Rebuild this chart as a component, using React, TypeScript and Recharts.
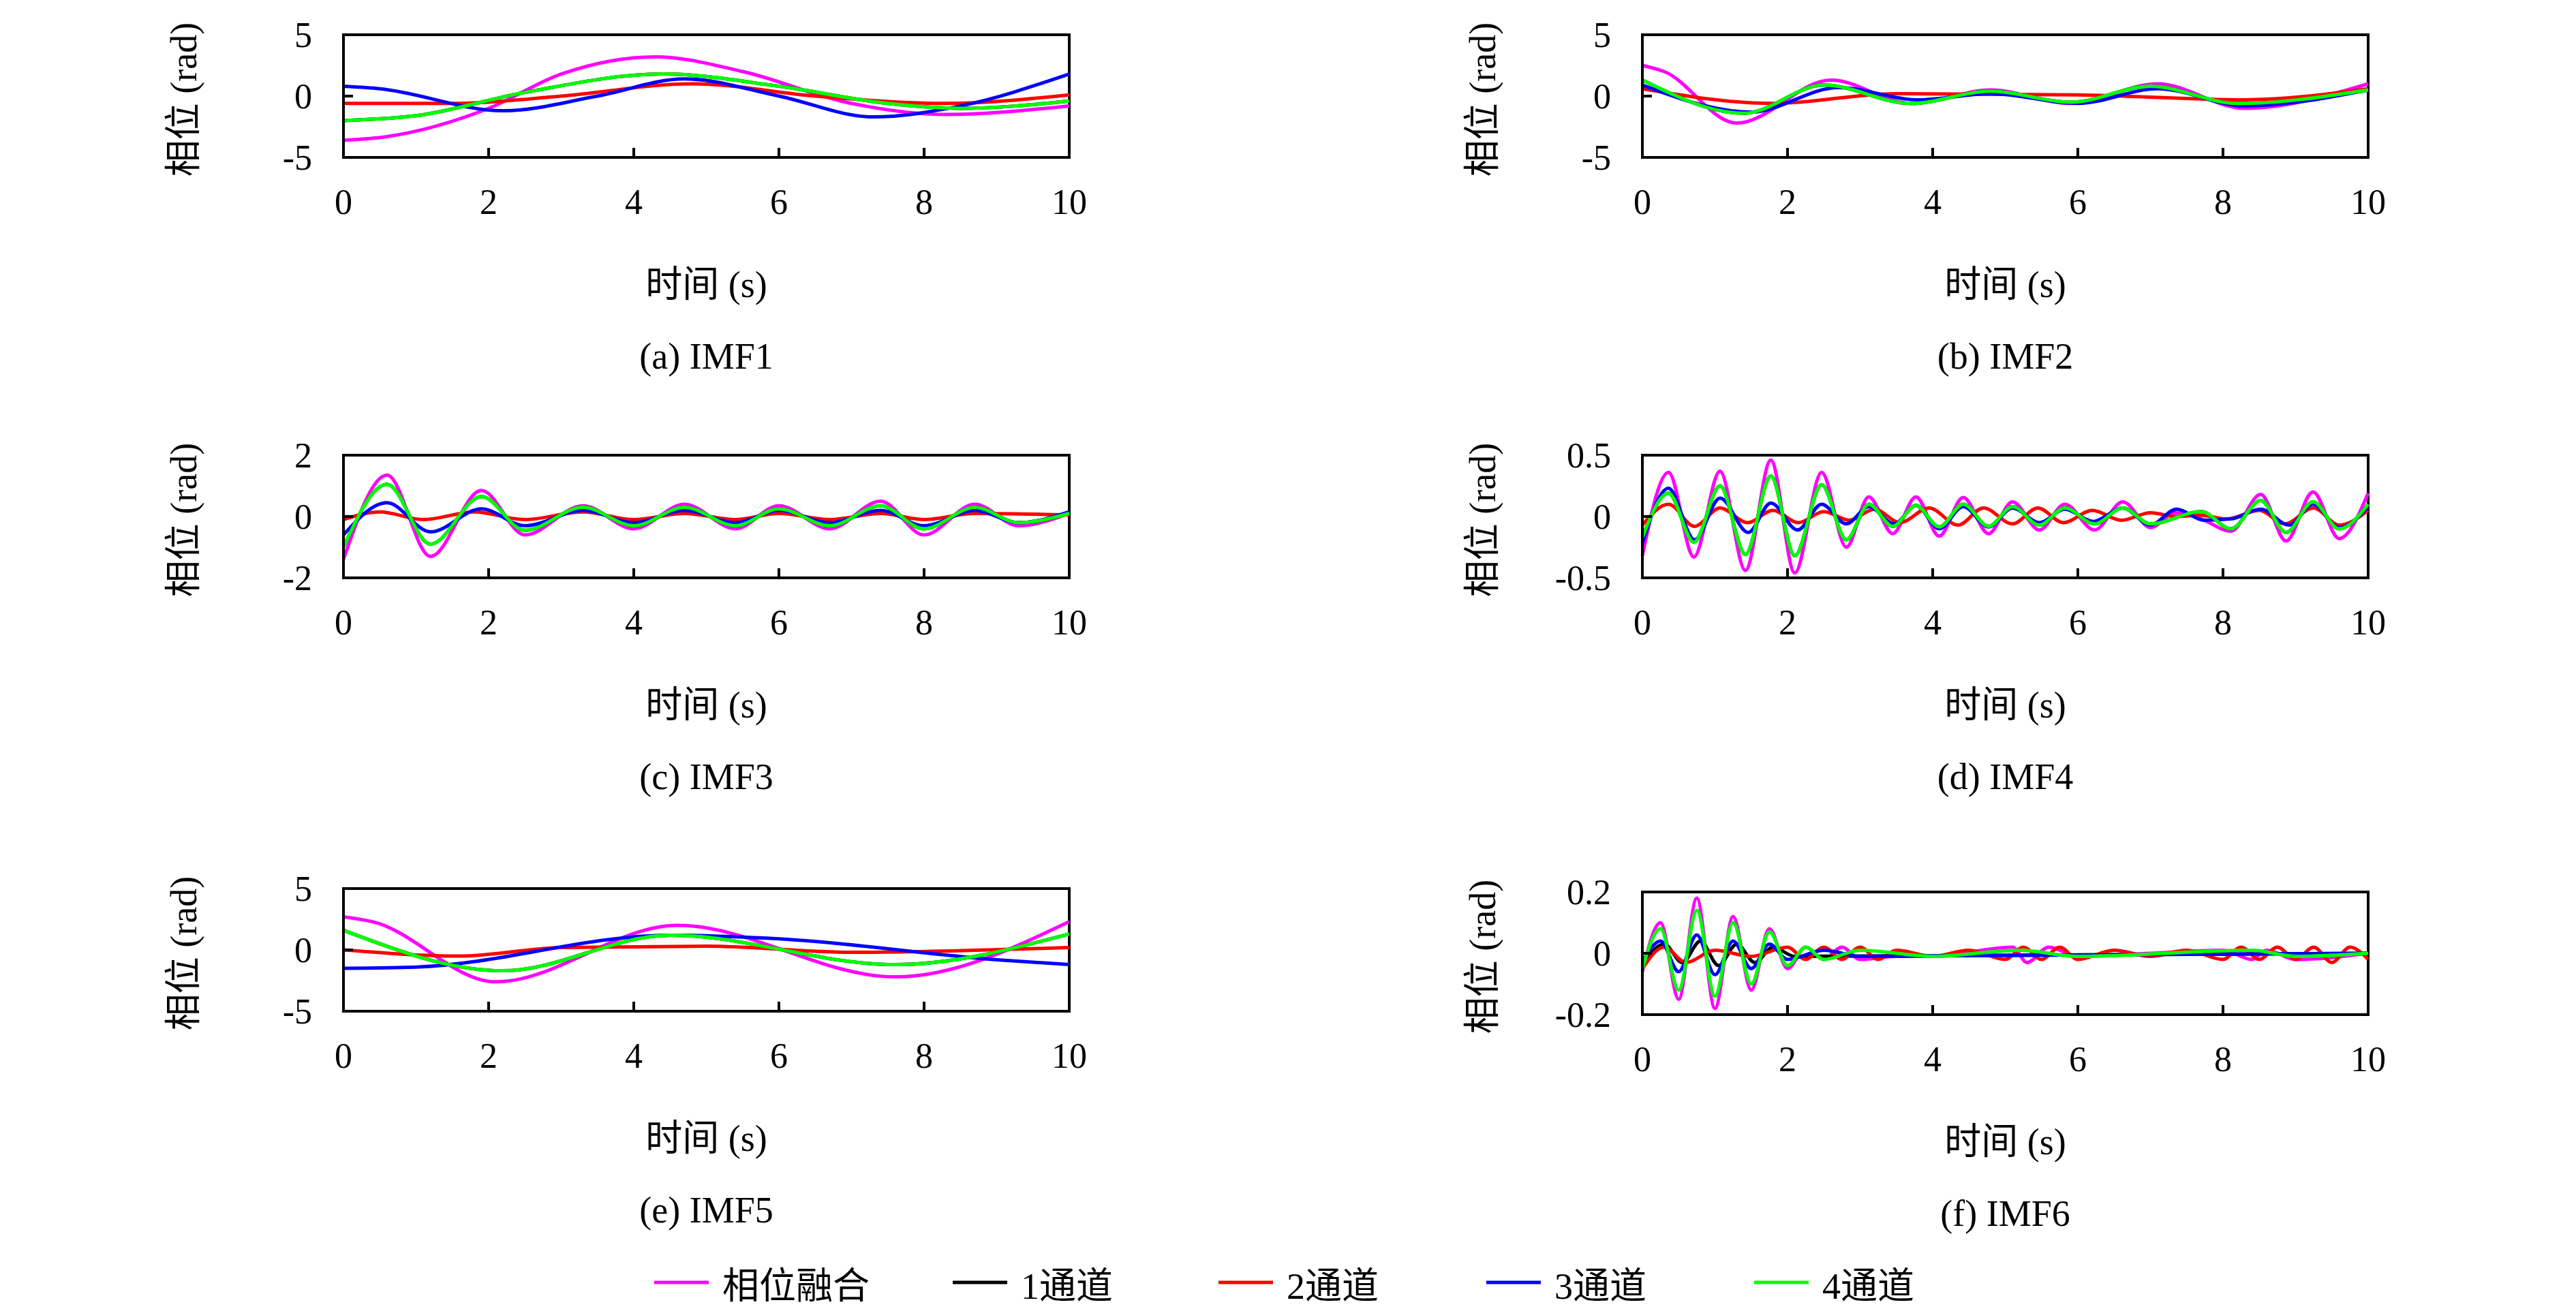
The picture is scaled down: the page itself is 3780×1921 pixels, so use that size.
import { LineChart, Line, XAxis, YAxis, ReferenceArea } from 'recharts';

type Pt = [number, number];

// IMF1
const aFus: Pt[] = [[0,-3.6],[0.6,-3.3],[2,-1],[3,1.8],[4.3,3.2],[5.5,2],[7,-0.6],[8.3,-1.5],[10,-0.8]];
const aCh2: Pt[] = [[0,-0.6],[1.5,-0.6],[3,0],[4.8,1],[6.5,0],[8.3,-0.6],[10,0.1]];
const aCh3: Pt[] = [[0,0.8],[0.5,0.6],[2.2,-1.2],[3.5,0],[4.7,1.4],[6,0],[7.3,-1.7],[8.5,-0.8],[10,1.8]];
const aCh4: Pt[] = [[0,-2],[1,-1.6],[2.5,0.3],[4.4,1.8],[6,0.8],[7.5,-0.6],[8.5,-1],[10,-0.4]];
// IMF2
const bFus: Pt[] = [[0,2.5],[0.3,2],[1.3,-2.2],[2.6,1.3],[3.7,-0.6],[4.8,0.5],[5.9,-0.6],[7.1,1],[8.3,-1],[10,1]];
const bCh2: Pt[] = [[0,0.6],[1.8,-0.6],[3.5,0.2],[6,0.1],[8.3,-0.3],[10,0.6]];
const bCh3: Pt[] = [[0,0.9],[1.5,-1.3],[2.7,0.7],[3.8,-0.3],[4.8,0.2],[6,-0.6],[7.1,0.6],[8.3,-0.8],[10,0.5]];
const bCh4: Pt[] = [[0,1.3],[1.4,-1.4],[2.5,0.9],[3.7,-0.6],[4.8,0.4],[5.9,-0.5],[7,0.8],[8.2,-0.6],[10,0.5]];
// IMF3
const cFus: Pt[] = [[0,-1.4],[0.6,1.35],[1.2,-1.3],[1.9,0.85],[2.5,-0.6],[3.3,0.35],[4,-0.4],[4.7,0.4],[5.4,-0.4],[6,0.35],[6.7,-0.4],[7.4,0.5],[8,-0.6],[8.7,0.4],[9.3,-0.3],[10,0.1]];
const cCh2: Pt[] = [[0,-0.1],[0.5,0.15],[1.1,-0.1],[1.8,0.15],[2.5,-0.1],[3.3,0.15],[4,-0.1],[4.7,0.1],[5.4,-0.1],[6,0.1],[6.7,-0.1],[7.4,0.1],[8,-0.1],[8.7,0.1],[10,0.05]];
const cCh3: Pt[] = [[0,-0.6],[0.6,0.45],[1.2,-0.5],[1.9,0.25],[2.5,-0.3],[3.3,0.2],[4,-0.2],[4.7,0.2],[5.4,-0.2],[6,0.2],[6.7,-0.2],[7.4,0.2],[8,-0.3],[8.7,0.2],[9.3,-0.2],[10,0.15]];
const cCh4: Pt[] = [[0,-1],[0.6,1.05],[1.2,-0.9],[1.9,0.65],[2.5,-0.45],[3.3,0.3],[4,-0.3],[4.7,0.3],[5.4,-0.3],[6,0.25],[6.7,-0.3],[7.4,0.35],[8,-0.4],[8.7,0.3],[9.3,-0.2],[10,0.1]];
// IMF4
const dFus: Pt[] = [[0,-0.32],[0.36,0.36],[0.71,-0.33],[1.07,0.37],[1.42,-0.44],[1.77,0.46],[2.1,-0.46],[2.47,0.36],[2.81,-0.25],[3.12,0.16],[3.45,-0.14],[3.77,0.16],[4.09,-0.16],[4.42,0.155],[4.77,-0.14],[5.1,0.12],[5.47,-0.11],[5.82,0.1],[6.23,-0.11],[6.62,0.12],[7,-0.09],[7.34,0.03],[7.7,-0.02],[8.11,-0.12],[8.52,0.18],[8.87,-0.2],[9.24,0.2],[9.6,-0.18],[10,0.19]];
const dCh2: Pt[] = [[0,-0.07],[0.36,0.1],[0.72,-0.08],[1.07,0.07],[1.45,-0.05],[1.8,0.05],[2.15,-0.05],[2.5,0.04],[2.85,-0.03],[3.2,0.06],[3.55,-0.05],[3.95,0.07],[4.35,-0.07],[4.7,0.07],[5.1,-0.06],[5.45,0.07],[5.8,-0.05],[6.2,0.05],[6.6,-0.03],[7,0.03],[7.35,0],[7.7,0.01],[8.05,-0.02],[8.5,0.05],[8.85,-0.06],[9.25,0.07],[9.6,-0.07],[10,0.05]];
const dCh3: Pt[] = [[0,-0.22],[0.36,0.23],[0.72,-0.19],[1.07,0.15],[1.46,-0.13],[1.77,0.11],[2.14,-0.11],[2.47,0.1],[2.81,-0.06],[3.12,0.08],[3.47,-0.06],[3.77,0.09],[4.09,-0.1],[4.42,0.08],[4.77,-0.085],[5.1,0.07],[5.47,-0.05],[5.82,0.06],[6.21,-0.04],[6.62,0.07],[7,-0.07],[7.36,0.06],[7.74,-0.03],[8.11,-0.02],[8.52,0.06],[8.91,-0.07],[9.24,0.1],[9.6,-0.09],[10,0.08]];
const dCh4: Pt[] = [[0,-0.17],[0.36,0.19],[0.71,-0.21],[1.07,0.25],[1.42,-0.31],[1.77,0.33],[2.1,-0.32],[2.47,0.26],[2.81,-0.19],[3.12,0.1],[3.45,-0.08],[3.77,0.09],[4.09,-0.085],[4.42,0.1],[4.77,-0.08],[5.1,0.08],[5.47,-0.07],[5.82,0.07],[6.23,-0.06],[6.62,0.07],[7,-0.06],[7.7,0.04],[8.11,-0.1],[8.52,0.13],[8.87,-0.13],[9.24,0.12],[9.6,-0.1],[10,0.1]];
// IMF5
const eFus: Pt[] = [[0,2.7],[0.4,2.3],[2.1,-2.6],[4.6,2],[7.6,-2.2],[10,2.3]];
const eCh2: Pt[] = [[0,0],[1.6,-0.5],[3,0.2],[5,0.3],[7,-0.2],[10,0.2]];
const eCh3: Pt[] = [[0,-1.5],[1,-1.4],[4.5,1.2],[6,0.9],[9,-0.8],[10,-1.2]];
const eCh4: Pt[] = [[0,1.6],[2.2,-1.7],[4.5,1.2],[7.6,-1.2],[10,1.3]];
// IMF6
const fFus: Pt[] = [[0,-0.06],[0.25,0.1],[0.5,-0.15],[0.75,0.18],[1,-0.18],[1.25,0.12],[1.5,-0.12],[1.75,0.08],[2,-0.05],[2.25,0.02],[2.5,-0.02],[2.75,0.02],[3,-0.02],[3.5,-0.01],[4,-0.01],[5.1,0.02],[5.3,-0.03],[5.6,0.02],[6,-0.01],[7,0],[8,0.01],[8.4,-0.02],[8.6,0.01],[9,-0.02],[10,0]];
const fCh1: Pt[] = [[0,-0.04],[0.3,0.03],[0.55,-0.03],[0.8,0.04],[1.05,-0.04],[1.3,0.03],[1.55,-0.03],[1.8,0.02],[2.1,-0.01],[10,0]];
const fCh2: Pt[] = [[0,-0.05],[0.3,0.02],[0.6,-0.03],[1,0.01],[1.5,-0.01],[2,0.02],[2.25,-0.02],[2.5,0.02],[2.75,-0.02],[3,0.02],[3.25,-0.02],[3.5,0.01],[4,-0.01],[4.5,0.01],[5,-0.02],[5.25,0.02],[5.5,-0.02],[5.75,0.02],[6,-0.02],[6.5,0.01],[7,-0.01],[7.5,0.01],[8,-0.02],[8.25,0.02],[8.5,-0.02],[8.75,0.02],[9,-0.02],[9.25,0.02],[9.5,-0.03],[9.75,0.02],[10,-0.02]];
const fCh3: Pt[] = [[0,-0.03],[0.25,0.04],[0.5,-0.06],[0.75,0.06],[1,-0.07],[1.25,0.04],[1.5,-0.05],[1.75,0.03],[2,-0.02],[2.5,0.01],[3,-0.01],[10,0]];
const fCh4: Pt[] = [[0,-0.05],[0.25,0.08],[0.5,-0.12],[0.75,0.14],[1,-0.14],[1.25,0.1],[1.5,-0.1],[1.75,0.07],[2,-0.04],[2.25,0.02],[2.5,-0.02],[3,0.01],[4,-0.01],[5.2,0.01],[6,-0.01],[8.4,0.01],[9,-0.01],[10,0]];

const xTicks = [0, 2, 4, 6, 8, 10];
const colors = { fus: '#ff00ff', ch1: '#000000', ch2: '#ff0000', ch3: '#0000ff', ch4: '#00ff00' };
const FONT = '"Liberation Serif", "Noto Sans CJK SC", serif';
const PW = 1065;
const PH = 190;

const toRows = (p: Pt[]) => p.map(([t, v]) => ({ t, v }));

interface PanelProps {
  left: number; top: number; domain: [number, number]; yTicks: number[]; caption: string;
  fus: Pt[]; ch1: Pt[]; ch2: Pt[]; ch3: Pt[]; ch4: Pt[];
}

function Panel({ left, top, domain, yTicks, caption, fus, ch1, ch2, ch3, ch4 }: PanelProps) {
  const series: [Pt[], string][] = [[fus, colors.fus], [ch1, colors.ch1], [ch2, colors.ch2], [ch3, colors.ch3], [ch4, colors.ch4]];
  const tickStyle = { fontSize: 52, fill: '#000', fontFamily: FONT };
  return (
    <>
      <div style={{ position: 'absolute', left: left - 200, top: top - 30 }}>
        <LineChart width={PW + 260} height={PH + 160} margin={{ top: 30, left: 100, right: 60, bottom: 130 }}>
          <XAxis type="number" dataKey="t" domain={[0, 10]} ticks={xTicks} allowDuplicatedCategory={false}
            stroke="#000" strokeWidth={4} tickSize={-14} tickMargin={60} tick={tickStyle} height={10} />
          <YAxis type="number" dataKey="v" domain={domain} ticks={yTicks} allowDataOverflow
            stroke="#000" strokeWidth={4} tickSize={-14} tickMargin={60} tick={tickStyle} width={100} />
          <ReferenceArea x1={0} x2={10} y1={domain[0]} y2={domain[1]} fill="none" stroke="#000" strokeWidth={4} fillOpacity={0} />
          {series.map(([d, c], i) => (
            <Line key={i} data={toRows(d)} dataKey="v" type="monotone" stroke={c} strokeWidth={5} dot={false} isAnimationActive={false} />
          ))}
        </LineChart>
      </div>
      <div style={{ position: 'absolute', left: left - 240, top: top + PH / 2, transform: 'translate(-50%,-50%) rotate(-90deg)', fontSize: 54, fontFamily: FONT, whiteSpace: 'nowrap' }}>相位 (rad)</div>
      <div style={{ position: 'absolute', left: left + PW / 2, top: top + PH + 171, transform: 'translate(-50%,-50%)', fontSize: 54, fontFamily: FONT, whiteSpace: 'nowrap' }}>时间 (s)</div>
      <div style={{ position: 'absolute', left: left + PW / 2, top: top + PH + 282, transform: 'translate(-50%,-50%)', fontSize: 54, fontFamily: FONT, whiteSpace: 'nowrap' }}>{caption}</div>
    </>
  );
}

const legendItems: [string, string, number][] = [
  ['相位融合', colors.fus, 960], ['1通道', colors.ch1, 1398], ['2通道', colors.ch2, 1788], ['3通道', colors.ch3, 2181], ['4通道', colors.ch4, 2574],
];

export default function App() {
  return (
    <div style={{ position: 'relative', width: 3780, height: 1921, background: '#fff', margin: -8 }}>
      <Panel left={504} top={51} domain={[-5, 5]} yTicks={[-5, 0, 5]} caption="(a) IMF1" fus={aFus} ch1={aCh4} ch2={aCh2} ch3={aCh3} ch4={aCh4} />
      <Panel left={2410} top={51} domain={[-5, 5]} yTicks={[-5, 0, 5]} caption="(b) IMF2" fus={bFus} ch1={bCh4} ch2={bCh2} ch3={bCh3} ch4={bCh4} />
      <Panel left={504} top={668} domain={[-2, 2]} yTicks={[-2, 0, 2]} caption="(c) IMF3" fus={cFus} ch1={cCh4} ch2={cCh2} ch3={cCh3} ch4={cCh4} />
      <Panel left={2410} top={668} domain={[-0.5, 0.5]} yTicks={[-0.5, 0, 0.5]} caption="(d) IMF4" fus={dFus} ch1={dCh4} ch2={dCh2} ch3={dCh3} ch4={dCh4} />
      <Panel left={504} top={1304} domain={[-5, 5]} yTicks={[-5, 0, 5]} caption="(e) IMF5" fus={eFus} ch1={eCh4} ch2={eCh2} ch3={eCh3} ch4={eCh4} />
      <Panel left={2410} top={1309} domain={[-0.2, 0.2]} yTicks={[-0.2, 0, 0.2]} caption="(f) IMF6" fus={fFus} ch1={fCh1} ch2={fCh2} ch3={fCh3} ch4={fCh4} />
      {legendItems.map(([label, c, x]) => (
        <div key={label} style={{ position: 'absolute', left: x, top: 1882, transform: 'translateY(-50%)', display: 'flex', alignItems: 'center', fontSize: 54, fontFamily: FONT, whiteSpace: 'nowrap' }}>
          <div style={{ width: 80, height: 5, background: c, marginRight: 20 }} />
          {label}
        </div>
      ))}
    </div>
  );
}
